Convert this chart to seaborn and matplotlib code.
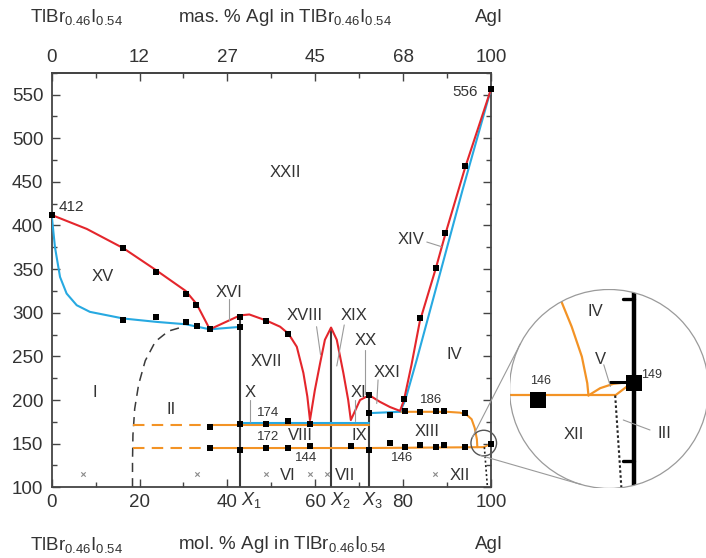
import matplotlib
matplotlib.use('Agg')
import matplotlib.pyplot as plt
import seaborn as sns
import numpy as np
from matplotlib.patches import Circle
from matplotlib.lines import Line2D
from matplotlib.ticker import MultipleLocator
import matplotlib.transforms as mtransforms

# ---------------- data (mol. % AgI, temperature in C) ----------------
# liquidus (red)
liq_x = [0, 8, 16.3, 23.7, 30.5, 33, 36, 42.9, 45, 48.9, 52, 53.9, 55.8, 57.3, 58.2, 58.8,
         59.9, 61.1, 62.2, 63.6, 64.9, 66.4, 67.5, 68.1, 70.2, 72.3, 74.7, 77, 79.3,
         80.2, 81.9, 83.8, 87.4, 89.5, 94.1, 100]
liq_y = [412, 396, 374, 349, 325, 310, 281, 297, 298, 291, 284, 276, 261, 231, 204, 177,
         211, 242, 269, 283, 269, 231, 200, 177, 200, 205.5, 198, 192, 187.5,
         200, 240, 290, 350, 388, 466, 556]

# solidus (blue)
sol_left_x = [0, 0.75, 1.9, 3.4, 5.7, 8.7, 16.3, 23.9, 30.5, 36, 42.9]
sol_left_y = [412, 375, 341, 322, 308.6, 301, 293.4, 289.5, 286.8, 281, 283.8]
sol_mid_x = [42.9, 72.3]
sol_mid_y = [174, 174]
sol_right_x = [72.3, 79.3, 80.5, 83.1, 93.5, 100]
sol_right_y = [185, 186.5, 200, 246, 440, 556]

# solid state transitions (orange)
tr_up_dash_x, tr_up_dash_y = [18.4, 36], [171.5, 171.5]
tr_up_x, tr_up_y = [36, 72.3], [171.5, 171.5]
tr_lo_dash_x, tr_lo_dash_y = [18.4, 36], [145, 145]
tr_lo_x, tr_lo_y = [36, 72.3, 98.5], [145, 145, 146]
tr_right_x = [79.3, 85, 90, 93, 94.5, 95.6, 96.3, 96.8, 96.9]
tr_right_y = [186.5, 186.5, 186.5, 185.5, 183, 178, 168, 155, 146]
tr_tip_x, tr_tip_y = [98.3, 100], [146, 149.5]

# solubility limit (black dashed) and dotted line near AgI
solv_x = [18.4, 18.4, 18.5, 18.9, 19.8, 21.3, 23.6, 26.6, 29.3]
solv_y = [100, 130, 160, 190, 218, 245, 267, 279, 283]
dot_x, dot_y = [98.5, 99.2], [146, 100]

# compounds X1, X2, X3
comp_x = [42.9, 63.6, 72.3]
comp_top = [297, 283, 205.5]
comp_names = [r'$\mathit{X}_1$', r'$\mathit{X}_2$', r'$\mathit{X}_3$']

# experimental points
pts_x = [0, 16.3, 23.7, 30.5, 32.9, 16.3, 23.7, 30.5, 33, 36, 42.9, 42.9,
         48.9, 53.9, 36, 36, 42.9, 48.9, 53.9, 58.8, 42.9, 48.9, 53.9, 58.8, 68.1,
         72.3, 72.3, 72.3, 77, 77,
         80.3, 80.4, 83.8, 87.5, 89.4, 94.1, 80.4, 83.8, 87.5, 89.4, 94.1, 100,
         83.8, 87.5, 89.5, 94.1, 100]
pts_y = [412, 374, 347, 321, 309, 292, 295, 289.5, 285, 281, 295, 284,
         290.6, 276.2, 169.3, 144.6, 172.4, 172.4, 176.2, 172.4, 142.7, 145.3, 145.3, 147.6, 147.6,
         142.7, 185.4, 205.6, 182.7, 150.3,
         201, 187.6, 186.5, 187.6, 187.6, 184.7, 145.8, 148.4, 145.8, 148.4, 145.8, 150,
         293.4, 351.7, 391, 467.6, 556]
cross_x = [7.1, 33, 48.9, 58.8, 62.6, 87.3]
cross_y = [115, 115, 115, 115, 115, 115]

# axis ticks
bottom_ticks = [0, 20, 40, 60, 80, 100]
top_labels = ['0', '12', '27', '45', '68', '100']

# phase field labels
field_names = ['XXII', 'XV', 'XVI', 'XVII', 'XVIII', 'XIX', 'XX', 'XXI', 'XI', 'X', 'VIII',
               'IX', 'VI', 'VII', 'XIII', 'XII', 'IV', 'XIV', 'I', 'II']
field_x = [53.1, 11.6, 40.3, 48.9, 57.7, 68.8, 71.5, 76.3, 69.9, 45.1, 56.7,
           70, 53.7, 66.8, 85.5, 92.9, 91.6, 81.7, 9.9, 27.3]
field_y = [460.6, 342, 323, 244.7, 296.5, 296.5, 268.7, 231.3, 208.6, 208.6, 159,
           159, 114, 114, 163.7, 114, 252.7, 384.4, 208.6, 189.5]
leaders = [((40.4, 316), (40.4, 292)), ((60.3, 284), (61.2, 252)), ((66.6, 286), (64.9, 239)),
           ((71.3, 257), (71.3, 207)), ((74.3, 223), (74.0, 196)), ((69.0, 200), (69.0, 176)),
           ((45.1, 200), (45.1, 175)), ((85.4, 381), (88.8, 375.6))]
temp_labels = ['174', '172', '144', '146', '186']
temp_x = [49.3, 49.3, 58, 79.7, 86.3]
temp_y = [184.8, 158, 133.2, 133.2, 200]

# magnified region near AgI (schematic)
mag_center = (98.36, 150.7)
z_edge_x, z_edge_y = [100, 100], [110, 185]
z_tick_y = [125, 175]
z_iv_x = [97.45, 97.58, 97.91, 98.25, 98.43, 98.47]
z_iv_y = [177.5, 174, 166.5, 157.2, 149, 145.2]
z_v_x = [98.47, 98.86, 99.3, 99.97]
z_v_y = [145.2, 147.45, 148.8, 149.5]
z_eut_x, z_eut_y = [95, 99.36], [145.2, 145.2]
z_iii_x, z_iii_y = [99.36, 99.97], [145.2, 149.5]
z_sol_x, z_sol_y = [99.19, 99.97], [149.5, 149.5]
z_dot_x, z_dot_y = [99.36, 99.6], [145.2, 112]
z_sq_x, z_sq_y = [96.8, 100], [143.8, 149]

RED = '#e4262c'
BLUE = '#27a9e1'
ORANGE = '#f39325'
DARK = '#333333'

sns.set_style('ticks')
plt.rcParams['font.family'] = ['Liberation Sans', 'DejaVu Sans']
plt.rcParams['mathtext.fontset'] = 'custom'
plt.rcParams['mathtext.rm'] = 'Liberation Sans'
plt.rcParams['mathtext.it'] = 'Liberation Sans:italic'
plt.rcParams['mathtext.default'] = 'regular'

fig = plt.figure(figsize=(7.06, 5.58), dpi=100)
ax = fig.add_axes([0.0732, 0.1267, 0.6222, 0.7430])


def curve(xs, ys, color, lw=1.4, dash=None, axis=None, z=2):
    a = axis if axis is not None else ax
    sns.lineplot(x=xs, y=ys, sort=False, estimator=None, color=color, lw=lw,
                 ax=a, legend=False, zorder=z)
    line = a.lines[-1]
    if dash is not None:
        line.set_dashes(dash)
    return line


# compounds
for x, top in zip(comp_x, comp_top):
    curve([x, x], [100, top], '#3a3a3a', lw=1.5, z=1)

curve(solv_x, solv_y, '#3a3a3a', lw=1.1, dash=(6, 4))
curve(tr_up_dash_x, tr_up_dash_y, ORANGE, lw=1.5, dash=(5.5, 3.5))
curve(tr_lo_dash_x, tr_lo_dash_y, ORANGE, lw=1.5, dash=(5.5, 3.5))
curve(tr_up_x, tr_up_y, ORANGE, lw=1.5)
curve(tr_lo_x, tr_lo_y, ORANGE, lw=1.5)
curve(tr_right_x, tr_right_y, ORANGE, lw=1.5)
curve(tr_tip_x, tr_tip_y, ORANGE, lw=1.2)
curve(dot_x, dot_y, '#222222', lw=1.2, dash=(1.2, 1.5))
curve(sol_left_x, sol_left_y, BLUE, lw=1.5, z=3)
curve(sol_mid_x, sol_mid_y, BLUE, lw=1.5, z=3)
curve(sol_right_x, sol_right_y, BLUE, lw=1.5, z=3)
curve(liq_x, liq_y, RED, lw=1.5, z=4)

sns.scatterplot(x=pts_x, y=pts_y, marker='s', s=14, color='black', linewidth=0, ax=ax,
                legend=False, zorder=6)
ax.collections[-1].set_clip_on(False)
sns.scatterplot(x=cross_x, y=cross_y, marker='x', s=10, color='#8a8a8a', linewidth=0.8,
                ax=ax, legend=False, zorder=6)

for (p, q) in leaders:
    ax.plot([p[0], q[0]], [p[1], q[1]], color='#9a9a9a', lw=0.8, zorder=5)

for name, x, y in zip(field_names, field_x, field_y):
    ax.text(x, y, name, ha='center', va='center', fontsize=12, color=DARK, zorder=7)
for name, x, y in zip(temp_labels, temp_x, temp_y):
    ax.text(x, y, name, ha='center', va='center', fontsize=9.5, color=DARK, zorder=7)
ax.text(1.5, 421, '412', ha='left', va='center', fontsize=11, color=DARK)
ax.text(97.1, 553, '556', ha='right', va='center', fontsize=11, color=DARK)

xlab_tr = mtransforms.blended_transform_factory(ax.transData, ax.transAxes)
for x, name in zip([45.4, 65.8, 73.1], comp_names):
    ax.text(x, -0.031, name, transform=xlab_tr, ha='center', va='center',
            fontsize=13, color=DARK)

ax.set_xlim(0, 100)
ax.set_ylim(100, 575)
ax.set_xticks(bottom_ticks)
ax.xaxis.set_minor_locator(MultipleLocator(10))
ax.set_yticks(range(100, 551, 50))
ax.yaxis.set_minor_locator(MultipleLocator(25))
ax.tick_params(which='both', direction='in', top=False, right=True, color='#444444',
               width=1, labelsize=13.5, labelcolor=DARK)
ax.tick_params(which='major', length=6)
ax.tick_params(which='minor', length=3.5)
ax.tick_params(axis='y', pad=6)
ax.tick_params(axis='x', pad=5)
for sp in ax.spines.values():
    sp.set_visible(True)
    sp.set_color('#444444')
    sp.set_linewidth(1.3)
ax.set_xlabel('')
ax.set_ylabel('')

sec = ax.secondary_xaxis('top')
sec.set_xticks(bottom_ticks, labels=top_labels)
sec.xaxis.set_minor_locator(MultipleLocator(10))
sec.tick_params(which='both', direction='in', color='#444444', width=1,
                labelsize=13.5, labelcolor=DARK, pad=5)
sec.tick_params(which='major', length=6)
sec.tick_params(which='minor', length=3.5)
sec.spines['top'].set_color('#444444')
sec.spines['top'].set_linewidth(1.3)

comp_txt = r'TlBr$_{0.46}$I$_{0.54}$'
for yf, word in [(0.9695, 'mas.'), (0.0233, 'mol.')]:
    fig.text(0.0425, yf, comp_txt, ha='left', va='center', fontsize=13.5, color=DARK)
    fig.text(0.252, yf, word + ' % AgI in ' + comp_txt, ha='left', va='center',
             fontsize=13.5, color=DARK)
    fig.text(0.6926, yf, 'AgI', ha='center', va='center', fontsize=13.5, color=DARK)

# ---------------- magnified inset ----------------
ins = fig.add_axes([0.7217, 0.1246, 0.2819, 0.3566])
ins.set_xlim(95.84, 102.47)
ins.set_ylim(116.4, 178.0)
ins.axis('off')
ring = Circle((0.5, 0.5), 0.5, transform=ins.transAxes, fill=False, ec='#9a9a9a', lw=0.9,
              zorder=10)
ins.add_patch(ring)

z_lines = [
    curve(z_edge_x, z_edge_y, 'black', lw=3.2, axis=ins),
    curve(z_eut_x, z_eut_y, ORANGE, lw=1.6, axis=ins),
    curve(z_iv_x, z_iv_y, ORANGE, lw=1.6, axis=ins),
    curve(z_v_x, z_v_y, ORANGE, lw=1.6, axis=ins),
    curve(z_iii_x, z_iii_y, ORANGE, lw=1.6, axis=ins),
    curve(z_sol_x, z_sol_y, 'black', lw=2.2, axis=ins),
    curve(z_dot_x, z_dot_y, '#222222', lw=1.5, dash=(1.2, 1.2), axis=ins),
]
for ty in z_tick_y:
    z_lines.append(curve([99.61, 100], [ty, ty], 'black', lw=2.4, axis=ins))
for ln in z_lines:
    ln.set_clip_path(ring)
sns.scatterplot(x=z_sq_x, y=z_sq_y, marker='s', s=117, color='black', linewidth=0,
                ax=ins, legend=False, zorder=6)
ins.plot([98.98, 99.2], [154.7, 148.0], color='#9a9a9a', lw=0.8)
ins.plot([99.63, 100.52], [137.6, 134.5], color='#9a9a9a', lw=0.8)
ins.text(96.86, 149.6, '146', ha='center', va='center', fontsize=9, color=DARK)
ins.text(100.58, 151.6, '149', ha='center', va='center', fontsize=9, color=DARK)
for name, x, y in [('IV', 98.69, 171.2), ('V', 98.86, 156.2), ('XII', 97.99, 133),
                   ('III', 100.99, 133.5)]:
    ins.text(x, y, name, ha='center', va='center', fontsize=12, color=DARK)

# small circle on the main plot and tangent lines to the big circle (inches)
dpi = fig.dpi
c1 = ax.transData.transform(mag_center) / dpi
r1 = 0.128
c2 = ins.transAxes.transform((0.5, 0.5)) / dpi
r2 = 0.2819 * 7.06 / 2
fig.add_artist(Circle(tuple(c1), r1, transform=fig.dpi_scale_trans, fill=False,
                      ec='#555555', lw=1.0))
d = c2 - c1
L = np.hypot(*d)
base = np.arctan2(d[1], d[0])
off = np.arccos((r2 - r1) / L)
for sgn in (1, -1):
    n = np.array([np.cos(base + sgn * off), np.sin(base + sgn * off)])
    p1 = c1 - r1 * n
    p2 = c2 - r2 * n
    fig.add_artist(Line2D([p1[0], p2[0]], [p1[1], p2[1]], transform=fig.dpi_scale_trans,
                          color='#9a9a9a', lw=0.8))

fig.savefig('out.png', dpi=100)
plt.close(fig)
